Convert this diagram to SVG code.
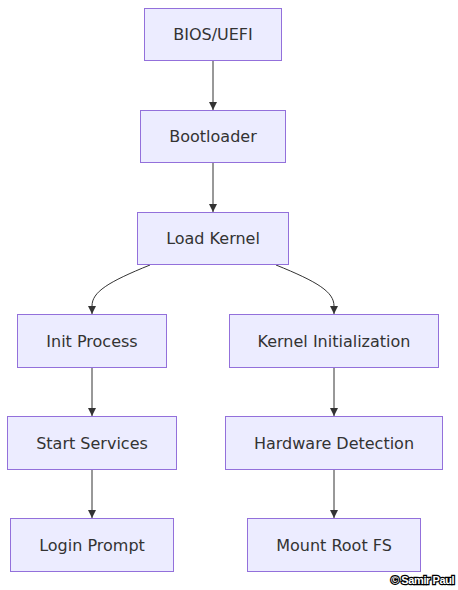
<svg xmlns="http://www.w3.org/2000/svg" width="458" height="590" viewBox="0 0 458 590">
<style>
.node rect{fill:#ECECFF;stroke:#9370DB;stroke-width:1}
.node text{font-family:"DejaVu Sans",Verdana,sans-serif;font-size:16px;fill:#333;text-anchor:middle;dominant-baseline:central}
.edge{fill:none;stroke:#333;stroke-width:1}
.wm{font-family:"Liberation Sans",Arial,sans-serif;font-size:11px;font-weight:bold;fill:#fff;stroke:#000;stroke-width:2.5px;paint-order:stroke;letter-spacing:-0.4px}
</style>
<defs>
<marker id="ah" viewBox="0 0 10 10" refX="10" refY="5" markerWidth="8" markerHeight="8" markerUnits="userSpaceOnUse" orient="auto">
<path d="M0,0L10,5L0,10z" fill="#333"/>
</marker>
</defs>
<rect width="458" height="590" fill="#fff"/>
<g id="connectors">
<path class="edge" d="M213,61V110" marker-end="url(#ah)"/>
<path class="edge" d="M213,163V212" marker-end="url(#ah)"/>
<path class="edge" d="M150,265C108,282 92,292 92,306V314" marker-end="url(#ah)"/>
<path class="edge" d="M276,265C318,282 334,292 334,306V314" marker-end="url(#ah)"/>
<path class="edge" d="M92,368V416" marker-end="url(#ah)"/>
<path class="edge" d="M334,368V416" marker-end="url(#ah)"/>
<path class="edge" d="M92,470V518" marker-end="url(#ah)"/>
<path class="edge" d="M334,470V518" marker-end="url(#ah)"/>
</g>
<g id="bios" class="node"><rect x="144.5" y="8.5" width="137" height="52"/><text x="213" y="34.5">BIOS/UEFI</text></g>
<g id="bootloader" class="node"><rect x="140.5" y="110.5" width="145" height="52"/><text x="213" y="136.5">Bootloader</text></g>
<g id="kernel" class="node"><rect x="137.5" y="212.5" width="151" height="52"/><text x="213" y="238.5">Load Kernel</text></g>
<g id="init" class="node"><rect x="17.5" y="314.5" width="149" height="53"/><text x="92" y="341">Init Process</text></g>
<g id="kinit" class="node"><rect x="229.5" y="314.5" width="209" height="53"/><text x="334" y="341">Kernel Initialization</text></g>
<g id="services" class="node"><rect x="7.5" y="416.5" width="169" height="53"/><text x="92" y="443">Start Services</text></g>
<g id="hw" class="node"><rect x="225.5" y="416.5" width="217" height="53"/><text x="334" y="443">Hardware Detection</text></g>
<g id="login" class="node"><rect x="10.5" y="518.5" width="163" height="53"/><text x="92" y="545">Login Prompt</text></g>
<g id="mount" class="node"><rect x="247.5" y="518.5" width="173" height="53"/><text x="334" y="545">Mount Root FS</text></g>
<text class="wm" x="391" y="584">© Samir Paul</text>
</svg>
